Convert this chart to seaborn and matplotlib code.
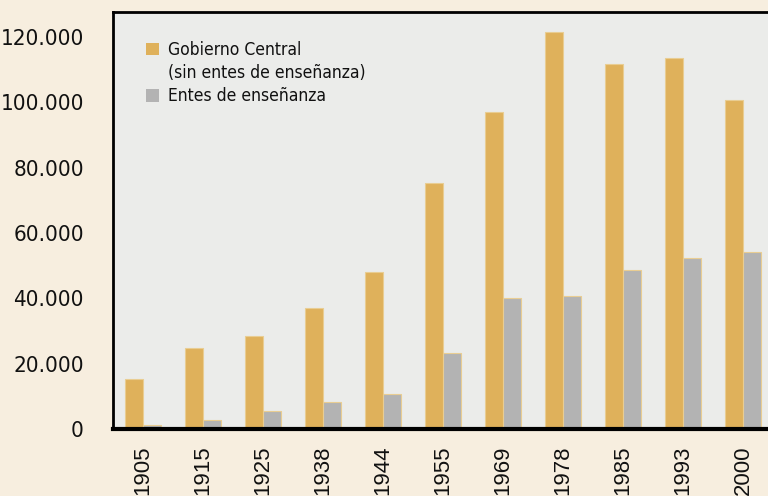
import matplotlib
matplotlib.use("Agg")
import matplotlib.pyplot as plt
import seaborn as sns
import pandas as pd
from matplotlib.ticker import FixedLocator, FuncFormatter
from matplotlib.font_manager import FontProperties
from matplotlib.patches import Patch

years = ["1905", "1915", "1925", "1938", "1944", "1955", "1969", "1978", "1985", "1993", "2000"]
gobierno = [15300, 24800, 28500, 37100, 48200, 75200, 97000, 121600, 111900, 113500, 100800]
entes = [1200, 2800, 5500, 8300, 10800, 23300, 40200, 40800, 48800, 52500, 54300]
series_names = ["Gobierno Central", "Entes de enseñanza"]
legend_note = "(sin entes de enseñanza)"
colors = ["#DFB15B", "#B3B3B3"]

df = pd.DataFrame({
    "year": years * 2,
    "value": gobierno + entes,
    "serie": [series_names[0]] * len(years) + [series_names[1]] * len(years),
})

sns.set_style("white")
plt.rcParams["font.family"] = ["Liberation Sans", "DejaVu Sans"]
plt.rcParams["text.color"] = "#111111"
plt.rcParams["xtick.color"] = "#111111"
plt.rcParams["ytick.color"] = "#111111"

cond_y = FontProperties(family="DejaVu Sans", stretch="condensed", size=16)
cond_leg = FontProperties(family="DejaVu Sans", stretch="condensed", size=12.5)

fig = plt.figure(figsize=(7.68, 4.96), dpi=100)
fig.patch.set_facecolor("#F7EEDF")
ax = fig.add_axes([113 / 768, 67 / 496, 660 / 768, 417 / 496])
ax.set_facecolor("#EBECEA")

sns.barplot(data=df, x="year", y="value", hue="serie", palette=colors,
            width=0.6, ax=ax, edgecolor="#E9CD92", linewidth=0.8, saturation=1,
            legend=False)

ax.set_xlim(-0.5, len(years) - 0.5)
ax.set_ylim(0, 127700)
ax.set_xlabel("")
ax.set_ylabel("")

ax.yaxis.set_major_locator(FixedLocator([0, 20000, 40000, 60000, 80000, 100000, 120000]))
ax.yaxis.set_major_formatter(FuncFormatter(lambda v, p: f"{int(v):,}".replace(",", ".")))
ax.tick_params(axis="y", length=0, pad=21)
for lbl in ax.get_yticklabels():
    lbl.set_fontproperties(cond_y)

ax.set_xticks(range(len(years)))
ax.set_xticklabels(years, rotation=90, fontsize=16)
ax.tick_params(axis="x", which="major", length=0, pad=12)
ax.set_xticks([i - 0.5 for i in range(len(years))], minor=True)
ax.tick_params(axis="x", which="minor", length=6, width=1, color="black", direction="out")

for side in ["left", "top", "bottom"]:
    ax.spines[side].set_color("black")
ax.spines["left"].set_linewidth(2)
ax.spines["top"].set_linewidth(2)
ax.spines["bottom"].set_linewidth(3)
ax.spines["right"].set_visible(False)

handles = [Patch(facecolor=colors[0], edgecolor="none"),
           Patch(facecolor="none", edgecolor="none"),
           Patch(facecolor=colors[1], edgecolor="none")]
labels = [series_names[0], legend_note, series_names[1]]
leg = ax.legend(handles, labels, loc="upper left", bbox_to_anchor=(0.026, 0.968),
                frameon=False, handlelength=0.75, handleheight=0.75,
                handletextpad=0.55, labelspacing=0.3, prop=cond_leg)

fig.savefig("out.png", dpi=100, facecolor=fig.get_facecolor())
